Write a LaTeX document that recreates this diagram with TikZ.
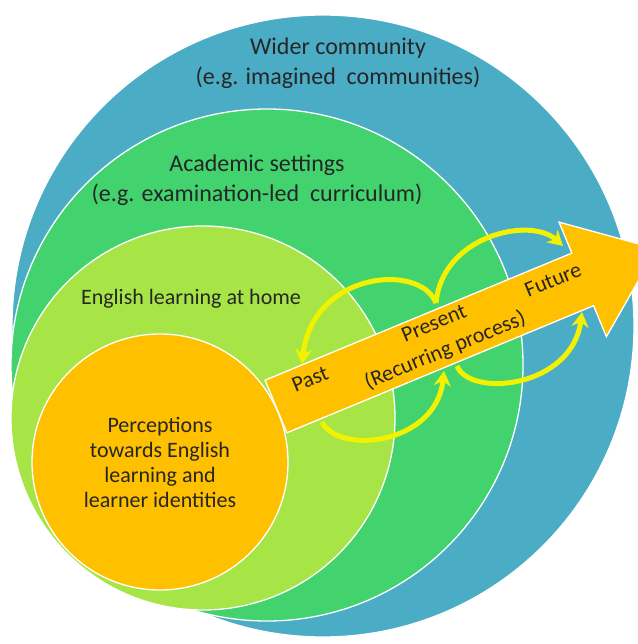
\documentclass[tikz,border=0pt]{standalone}
\usepackage{fontspec}
\setmainfont{Carlito}
\usetikzlibrary{arrows.meta}
\definecolor{widerblue}{HTML}{4BACC6}
\definecolor{academicgreen}{HTML}{42D36F}
\definecolor{homegreen}{HTML}{A6E545}
\definecolor{selforange}{HTML}{FFC000}
\definecolor{loopyellow}{HTML}{F2F200}
\begin{document}
\begin{tikzpicture}[x=1pt,y=-1pt,
    ring/.style={draw=white, line width=1.3pt},
    label/.style={text=black!85, align=center},
    big/.style={font=\fontsize{24}{30}\selectfont},
    mid/.style={font=\fontsize{22}{25}\selectfont},
    loop/.style={loopyellow, line width=5pt, -{Stealth[length=15pt,width=17pt]}}]
    \useasboundingbox (0,0) rectangle (637,644);
    \fill [white] (0,0) rectangle (637,644);
%    \draw [lightgray, thin, step = 50] (0,0) grid (637,644);

    % nested circles
    \draw [ring, fill=widerblue] (323,326) circle [radius=311pt];
    \draw [ring, fill=academicgreen] (267,365) circle [radius=256pt];
    \draw [ring, fill=homegreen] (203,418) circle [radius=192pt];
    \draw [ring, fill=selforange] (160,462) circle [radius=128pt];

    % time arrow
    \draw [ring, fill=selforange] (265.1,380.2) -- (571.8,253.1) -- (559.0,222.1)
        -- (656.6,248.8) -- (606.4,336.7) -- (593.6,305.7) -- (286.9,432.8) -- cycle;

    \node (wider) at (338,63) [label, big] {Wider community\\(e.g. imagined\ \ communities)};
    \node (academic) at (257,180) [label, big] {Academic settings\\(e.g. examination-led\ \ curriculum)};
    \node (home) at (191,299) [label, mid] {English learning at home};
    \node (self) at (160,462) [label, mid] {Perceptions\\towards English\\learning and\\learner identities};

    \node (past) at (310,379) [label, mid, rotate=22.5] {Past};
    \node (present) at (440,338) [label, font=\fontsize{22}{29}\selectfont, rotate=22.5] {Present\\(Recurring process)};
    \node (future) at (553,280) [label, mid, rotate=22.5] {Future};

    % recurring loops
    \coordinate (presentTop) at (436,303);
    \coordinate (pastTop) at (302,364);
    \coordinate (futureTop) at (563,246);
    \coordinate (pastLow) at (322,422);
    \coordinate (presentLow) at (444,371);
    \coordinate (presentLowR) at (457,366);
    \coordinate (futureLow) at (582,312);

    \draw [loop] (presentTop) .. controls (420,262) and (312,272) .. (pastTop);
    \draw [loop] (presentTop) .. controls (442,236) and (530,216) .. (futureTop);
    \draw [loop] (pastLow) .. controls (338,455) and (436,445) .. (presentLow);
    \draw [loop] (presentLowR) .. controls (470,398) and (572,388) .. (futureLow);
\end{tikzpicture}
\end{document}
